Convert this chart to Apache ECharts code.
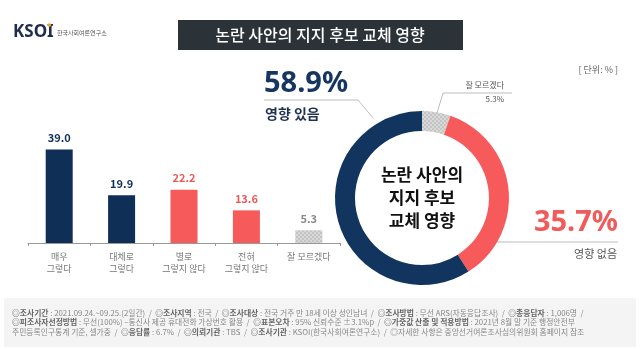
<!DOCTYPE html>
<html><head><meta charset="utf-8">
<script src="https://cdn.jsdelivr.net/npm/echarts@6/dist/echarts.min.js"></script>
<style>html,body{margin:0;padding:0;background:#fff}#c{width:640px;height:349px}</style>
</head><body><div id="c"></div>
<script>
const title = '논란 사안의 지지 후보 교체 영향';
const categories = ['매우\n그렇다', '대체로\n그렇다', '별로\n그렇지 않다', '전혀\n그렇지 않다', '잘 모르겠다'];
const barValues = [39.0, 19.9, 22.2, 13.6, 5.3];
const pieNames = ['잘 모르겠다', '영향 없음', '영향 있음'];
const pieValues = [5.3, 35.7, 58.9];
const centerText = '논란 사안의\n지지 후보\n교체 영향';
const unitText = '[ 단위: % ]';

const NAVY = '#0f2f57', RED = '#f65a5a', GRAY = '#c4c4c4';
const barColors = [NAVY, NAVY, RED, RED, GRAY];
const labelColors = [NAVY, NAVY, '#e85a5a', '#e85a5a', '#8a8a8a'];
const FONT = '"Noto Sans CJK KR", "Noto Sans", sans-serif';
const DECAL = {symbol:'rect', symbolSize:1, color:'rgba(255,255,255,0.35)', dashArrayX:[[2,2],[0,2,2,0]], dashArrayY:[2,0]};

const footerLines = [
  [['b','◎조사기간'],['n',' : 2021.09.24.~09.25.(2일간)  /  '],['b','◎조사지역'],['n',' : 전국  /  '],['b','◎조사대상'],['n',' : 전국 거주 만 18세 이상 성인남녀  /  '],['b','◎조사방법'],['n',' : 무선 ARS(자동응답조사)  /  '],['b','◎총응답자'],['n',' : 1,006명  /']],
  [['b','◎피조사자선정방법'],['n',' : 무선(100%) –통신사 제공 휴대전화 가상번호 활용  /  '],['b','◎표본오차'],['n',' : 95% 신뢰수준 ±3.1%p  /  '],['b','◎가중값 산출 및 적용방법'],['n',' : 2021년 8월 말 기준 행정안전부']],
  [['n','주민등록인구통계 기준, 셀가중  /  '],['b','◎응답률'],['n',' : 6.7%  /  '],['b','◎의뢰기관'],['n',' : TBS  /  '],['b','◎조사기관'],['n',' : KSOI(한국사회여론연구소)  /  ◎자세한 사항은 중앙선거여론조사심의위원회 홈페이지 참조']]
];

const chart = echarts.init(document.getElementById('c'), null, {renderer: 'canvas'});
const cx = 422, cy = 198;

const graphics = [
  {type:'text', left:13, top:24, style:{text:'KSOI', font:'bold 17px "Noto Sans", sans-serif', fill:'#1d2d4a'}},
  {type:'circle', shape:{cx:49.5, cy:25, r:1.8}, style:{fill:'#f0a030'}},
  {type:'text', left:57, top:30, style:{text:'한국사회여론연구소', font:'6px ' + FONT, fill:'#555'}},
  {type:'rect', shape:{x:178, y:20, width:285, height:30}, style:{fill:'#2b3238'}},
  {type:'text', x:320, y:35, style:{text:title, font:'500 16px ' + FONT, fill:'#fff', align:'center', verticalAlign:'middle'}},
  {type:'text', x:618, y:70, style:{text:unitText, font:'9px ' + FONT, fill:'#666', align:'right', verticalAlign:'middle'}},
  {type:'text', x:cx, y:cy, style:{text:centerText, font:'bold 17px ' + FONT, lineHeight:23, fill:'#111', align:'center', verticalAlign:'middle'}},
  {type:'text', x:264, y:84, style:{text:pieValues[2].toFixed(1) + '%', font:'bold 29px "Noto Sans", sans-serif', fill:'#16365f', verticalAlign:'middle'}},
  {type:'polyline', shape:{points:[[264,100],[358,100],[373,118]]}, style:{stroke:'#aaa', lineWidth:0.8, fill:null}},
  {type:'text', x:265, y:114, style:{text:pieNames[2], font:'bold 14px ' + FONT, fill:'#1f3350', verticalAlign:'middle'}},
  {type:'text', x:504, y:85, style:{text:pieNames[0], font:'8px ' + FONT, fill:'#555', align:'right', verticalAlign:'middle'}},
  {type:'polyline', shape:{points:[[437,113],[443,93],[512,93]]}, style:{stroke:'#aaa', lineWidth:0.8, fill:null}},
  {type:'text', x:504, y:99, style:{text:pieValues[0].toFixed(1) + '%', font:'8px ' + FONT, fill:'#555', align:'right', verticalAlign:'middle'}},
  {type:'text', x:618, y:223, style:{text:pieValues[1].toFixed(1) + '%', font:'bold 29px "Noto Sans", sans-serif', fill:'#f05b5b', align:'right', verticalAlign:'middle'}},
  {type:'line', shape:{x1:488, y1:242, x2:618, y2:242}, style:{stroke:'#aaa', lineWidth:0.8}},
  {type:'text', x:617, y:254, style:{text:pieNames[1], font:'11px ' + FONT, fill:'#555', align:'right', verticalAlign:'middle'}},
  {type:'rect', shape:{x:4, y:298, width:632, height:49}, style:{fill:'#f4f4f4'}}
];

footerLines.forEach((parts, i) => {
  graphics.push({
    type:'text', x:12, y:313 + i*9.5,
    style:{
      text: parts.map(p => '{' + p[0] + '|' + p[1] + '}').join(''),
      verticalAlign:'middle',
      rich:{
        b:{font:'bold 7.8px ' + FONT, fill:'#666'},
        n:{font:'7.8px ' + FONT, fill:'#888'}
      }
    }
  });
});

chart.setOption({
  animation:false,
  textStyle:{fontFamily:FONT},
  grid:{left:28, width:312, top:123, height:120},
  xAxis:{
    type:'category', data:categories,
    axisLine:{lineStyle:{color:'#999', width:1}},
    axisTick:{show:true, alignWithLabel:false, length:3, lineStyle:{color:'#999'}},
    axisLabel:{color:'#777', fontSize:9, lineHeight:12, margin:8, interval:0}
  },
  yAxis:{type:'value', min:0, max:50, show:false},
  series:[
    {
      type:'bar', barWidth:27,
      data: barValues.map((v,i) => ({value:v, itemStyle:{color:barColors[i], decal: i === 4 ? DECAL : null}, label:{color:labelColors[i]}})),
      label:{show:true, position:'top', distance:6, fontSize:11, fontWeight:'bold', formatter:p => p.value.toFixed(1)}
    },
    {
      type:'pie', center:[cx, cy], radius:[67, 87], startAngle:90, clockwise:true,
      label:{show:false}, labelLine:{show:false},
      data: pieNames.map((n,i) => ({name:n, value:pieValues[i], itemStyle:{color:[GRAY, RED, '#12355f'][i], decal: i === 0 ? DECAL : null}}))
    }
  ],
  aria:{enabled:false, decal:{show:true}},
  graphic: graphics
});
</script>
</body></html>
